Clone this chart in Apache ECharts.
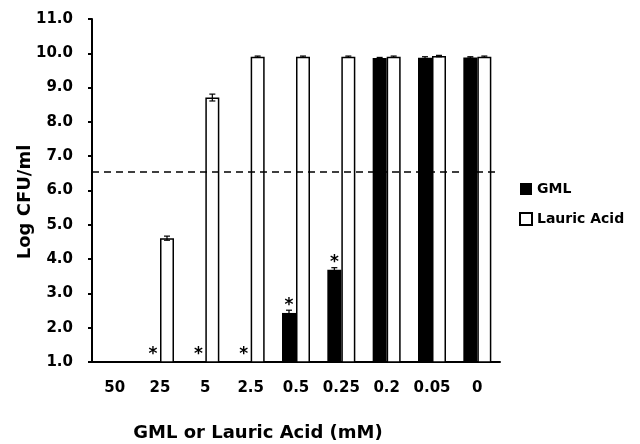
<!DOCTYPE html>
<html>
<head>
<meta charset="utf-8">
<script src="https://cdn.jsdelivr.net/npm/echarts@6/dist/echarts.min.js"></script>
<style>
  html, body { margin: 0; padding: 0; background: #fff; }
  #chart { width: 640px; height: 444px; }
</style>
</head>
<body>
<div id="chart"></div>
<script>
'use strict';
// concentrations (mM)
const categories = ['50', '25', '5', '2.5', '0.5', '0.25', '0.2', '0.05', '0'];
// Log CFU/ml, 1.0 = nothing recovered
const gml = [1.0, 1.0, 1.0, 1.0, 2.43, 3.69, 9.86, 9.87, 9.88];
const gmlErr = [0, 0, 0, 0, 0.08, 0.06, 0.02, 0.03, 0.02];
const lauric = [1.0, 4.61, 8.71, 9.9, 9.9, 9.9, 9.9, 9.92, 9.9];
const lauricErr = [0, 0.06, 0.1, 0.02, 0.02, 0.02, 0.02, 0.02, 0.02];
// significance marks drawn above the GML bars
const gmlStars = [false, true, true, true, true, true, false, false, false];
const threshold = 6.55;
const yTicks = [1, 2, 3, 4, 5, 6, 7, 8, 9, 10, 11];

const FONT = '"DejaVu Sans", sans-serif';
const BAR_W = 14;

function errorSeries(name, vals, errs, offset) {
  return {
    type: 'custom',
    name: name + ' err',
    silent: true,
    z: 5,
    data: vals.map((v, i) => [i, v, errs[i]]),
    renderItem(params, api) {
      const i = api.value(0), v = api.value(1), e = api.value(2);
      if (!e) return null;
      const hi = api.coord([i, v + e]);
      const lo = api.coord([i, v - e]);
      const x = hi[0] + offset;
      const style = { stroke: '#000', lineWidth: 1.2 };
      return {
        type: 'group',
        children: [
          { type: 'line', shape: { x1: x, y1: hi[1], x2: x, y2: lo[1] }, style },
          { type: 'line', shape: { x1: x - 3, y1: hi[1], x2: x + 3, y2: hi[1] }, style },
          { type: 'line', shape: { x1: x - 3, y1: lo[1], x2: x + 3, y2: lo[1] }, style }
        ]
      };
    }
  };
}

const titleStyle = { fontFamily: FONT, fontWeight: 'bold', fontSize: 18, fill: '#000', align: 'center', verticalAlign: 'middle' };

const chart = echarts.init(document.getElementById('chart'));
chart.setOption({
  animation: false,
  backgroundColor: '#fff',
  textStyle: { fontFamily: FONT },
  grid: { left: 92, right: 140, top: 19, bottom: 82 },
  graphic: [
    {
      type: 'text',
      x: 25,
      y: 202,
      rotation: Math.PI / 2,
      style: Object.assign({ text: 'Log CFU/ml' }, titleStyle)
    },
    {
      type: 'text',
      x: 258,
      y: 433,
      style: Object.assign({ text: 'GML or Lauric Acid (mM)' }, titleStyle)
    }
  ],
  legend: {
    orient: 'vertical',
    left: 519,
    top: 182,
    padding: 0,
    itemWidth: 12,
    itemHeight: 12,
    itemGap: 16,
    icon: 'rect',
    data: ['GML', 'Lauric Acid'],
    textStyle: { fontFamily: FONT, fontWeight: 'bold', fontSize: 14, color: '#000' }
  },
  xAxis: {
    type: 'category',
    data: categories,
    axisLine: { lineStyle: { color: '#000', width: 2 } },
    axisTick: { length: 5, lineStyle: { color: '#000', width: 2 } },
    axisLabel: { interval: 0, fontFamily: FONT, fontWeight: 'bold', fontSize: 15, color: '#000', margin: 19 }
  },
  yAxis: {
    type: 'value',
    min: yTicks[0],
    max: yTicks[yTicks.length - 1],
    interval: 1,
    splitLine: { show: false },
    axisLine: { show: true, lineStyle: { color: '#000', width: 2 } },
    axisTick: { show: true, length: 4, lineStyle: { color: '#000', width: 2 } },
    axisLabel: {
      fontFamily: FONT, fontWeight: 'bold', fontSize: 15, color: '#000', margin: 19,
      formatter: v => v.toFixed(1)
    }
  },
  series: [
    {
      name: 'GML',
      type: 'bar',
      data: gml,
      barWidth: BAR_W,
      barGap: '0%',
      itemStyle: { color: '#000' },
      label: {
        show: true,
        position: 'top',
        distance: -1,
        fontFamily: FONT,
        fontWeight: 'bold',
        fontSize: 17,
        color: '#000',
        formatter: p => (gmlStars[p.dataIndex] ? '*' : '')
      },
      markLine: {
        silent: true,
        symbol: 'none',
        label: { show: false },
        lineStyle: { color: '#000', type: [7, 5], width: 1.5 },
        data: [{ yAxis: threshold }]
      }
    },
    {
      name: 'Lauric Acid',
      type: 'bar',
      data: lauric,
      barWidth: BAR_W,
      barGap: '0%',
      itemStyle: { color: '#fff', borderColor: '#000', borderWidth: 1.5 }
    },
    errorSeries('GML', gml, gmlErr, -BAR_W / 2),
    errorSeries('Lauric Acid', lauric, lauricErr, BAR_W / 2)
  ]
});
</script>
</body>
</html>
